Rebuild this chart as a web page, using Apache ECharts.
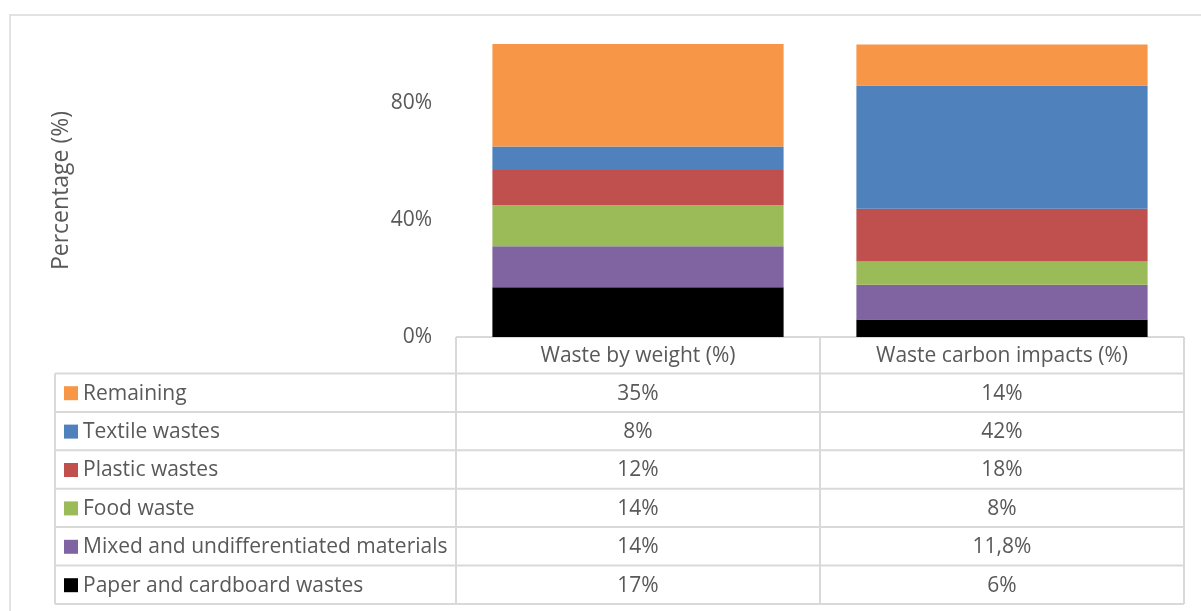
<!DOCTYPE html>
<html>
<head>
<meta charset="utf-8">
<title>Waste composition by weight and carbon impact</title>
<script src="https://cdn.jsdelivr.net/npm/echarts@6/dist/echarts.min.js"></script>
<style>
  html, body { margin: 0; padding: 0; background: #ffffff; }
  #chart { width: 1201px; height: 611px; }
</style>
</head>
<body>
<div id="chart"></div>
<script>
// Column categories (also the table header)
const categories = ['Waste by weight (%)', 'Waste carbon impacts (%)'];

// Shares per waste type, in percent: [by weight, carbon impacts]
const paperCardboard = [17, 6];
const mixedMaterials = [14, 11.8];
const foodWaste = [14, 8];
const plasticWastes = [12, 18];
const textileWastes = [8, 42];
const remaining = [35, 14];

// Series names, stacked from bottom to top
const seriesNames = [
  'Paper and cardboard wastes',
  'Mixed and undifferentiated materials',
  'Food waste',
  'Plastic wastes',
  'Textile wastes',
  'Remaining'
];
const seriesValues = [paperCardboard, mixedMaterials, foodWaste, plasticWastes, textileWastes, remaining];
const seriesColors = ['#000000', '#8064A2', '#9BBB59', '#C0504D', '#4F81BD', '#F79646'];

// Value axis range and tick step
const yMin = 0;
const yMax = 100;
const yStep = 40;

const FONT = "'Open Sans', 'Noto Sans', sans-serif";
const TEXT = '#595959';
const LINE = '#d9d9d9';

// Plot area geometry
const gridLeft = 456, gridRight = 17, gridTop = 44, gridBottom = 274;
const W = 1201, H = 611;
const plotRight = W - gridRight;
const plotBottom = H - gridBottom;

function fmt(v) {
  return String(v).replace('.', ',') + '%';
}

const chart = echarts.init(document.getElementById('chart'), null, { renderer: 'canvas' });

const series = seriesNames.map((name, i) => ({
  name: name,
  type: 'bar',
  stack: 'total',
  barCategoryGap: '20%',
  data: seriesValues[i],
  itemStyle: { color: seriesColors[i] },
  emphasis: { disabled: true }
}));

// Data table beneath the plot: header row + one row per series (top series first)
function buildTable() {
  const els = [];
  const tableLeft = 55;
  const headerTop = plotBottom;
  const headerH = 36.5;
  const rowTop = headerTop + headerH;
  const rowH = 38.4;
  const nRows = seriesNames.length;
  const tableBottom = rowTop + rowH * nRows;
  const colW = (plotRight - gridLeft) / categories.length;
  const lineStyle = { stroke: LINE, lineWidth: 2 };

  // horizontal lines
  els.push({ type: 'line', shape: { x1: gridLeft, y1: headerTop, x2: plotRight, y2: headerTop }, style: lineStyle, silent: true });
  for (let r = 0; r <= nRows; r++) {
    const y = rowTop + r * rowH;
    els.push({ type: 'line', shape: { x1: tableLeft, y1: y, x2: plotRight, y2: y }, style: lineStyle, silent: true });
  }
  // vertical lines
  els.push({ type: 'line', shape: { x1: tableLeft, y1: rowTop, x2: tableLeft, y2: tableBottom }, style: lineStyle, silent: true });
  for (let c = 0; c <= categories.length; c++) {
    const x = gridLeft + c * colW;
    els.push({ type: 'line', shape: { x1: x, y1: headerTop, x2: x, y2: tableBottom }, style: lineStyle, silent: true });
  }
  // header text
  categories.forEach((cat, c) => {
    els.push({
      type: 'text', silent: true,
      style: { text: cat, x: gridLeft + (c + 0.5) * colW, y: headerTop + headerH / 2 + 1,
               align: 'center', verticalAlign: 'middle', fill: TEXT, font: '21px ' + FONT }
    });
  });
  // rows, top series first
  for (let r = 0; r < nRows; r++) {
    const si = nRows - 1 - r;
    const cy = rowTop + r * rowH + rowH / 2 + 1;
    els.push({ type: 'rect', silent: true,
      shape: { x: 64, y: cy - 7.5, width: 14, height: 14 }, style: { fill: seriesColors[si] } });
    els.push({ type: 'text', silent: true,
      style: { text: seriesNames[si], x: 83, y: cy, align: 'left', verticalAlign: 'middle',
               fill: TEXT, font: '21px ' + FONT } });
    seriesValues[si].forEach((v, c) => {
      els.push({ type: 'text', silent: true,
        style: { text: fmt(v), x: gridLeft + (c + 0.5) * colW, y: cy, align: 'center', verticalAlign: 'middle',
                 fill: TEXT, font: '21px ' + FONT } });
    });
  }
  // chart area border
  els.push({ type: 'rect', silent: true, z: -1,
    shape: { x: 10, y: 15, width: W, height: H },
    style: { fill: 'none', stroke: LINE, lineWidth: 1.5 } });
  return els;
}

chart.setOption({
  backgroundColor: '#ffffff',
  animation: false,
  textStyle: { fontFamily: FONT },
  grid: { left: gridLeft, right: gridRight, top: gridTop, bottom: gridBottom, containLabel: false },
  xAxis: {
    type: 'category',
    data: categories,
    axisLine: { show: false },
    axisTick: { show: false },
    axisLabel: { show: false },
    splitLine: { show: false }
  },
  yAxis: {
    type: 'value',
    min: yMin,
    max: yMax,
    interval: yStep,
    name: 'Percentage (%)',
    nameLocation: 'middle',
    nameGap: 383,
    nameTextStyle: { color: TEXT, fontSize: 23, fontFamily: FONT },
    axisLine: { show: false },
    axisTick: { show: false },
    splitLine: { show: false },
    axisLabel: {
      color: TEXT, fontSize: 21, fontFamily: FONT, margin: 24,
      padding: [4, 0, 0, 0],
      showMaxLabel: false,
      formatter: v => (v > yMax - yStep / 2 && v % yStep !== 0) ? '' : v + '%'
    }
  },
  series: series,
  graphic: buildTable()
});
</script>
</body>
</html>
